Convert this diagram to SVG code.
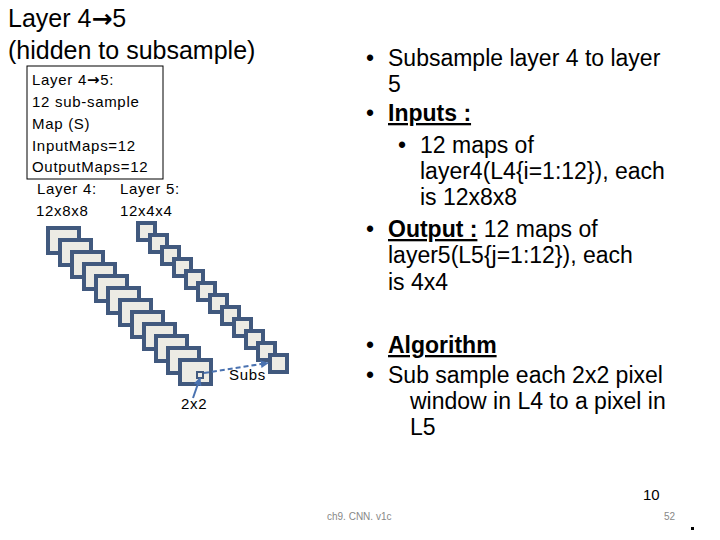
<svg xmlns="http://www.w3.org/2000/svg" width="720" height="540" viewBox="0 0 720 540">
<defs>
<style>
text{font-family:"Liberation Sans",Arial,sans-serif;fill:#000}
.t{font-size:25px}
.s{font-size:15px;letter-spacing:0.7px}
.b{font-size:23px}
.u{font-weight:bold;text-decoration:underline}
.ar{font-family:"DejaVu Sans",sans-serif;font-weight:bold}
.m4{fill:#ecebe4;stroke:#41597e;stroke-width:4}
</style>
<marker id="ah" viewBox="0 0 10 10" refX="9" refY="5" markerWidth="4" markerHeight="4" orient="auto"><path d="M0,0L10,5L0,10z" fill="#4a72b0"/></marker>
</defs>
<rect width="720" height="540" fill="#fff"/>
<g id="title"><text class="t" x="8" y="27">Layer 4<tspan class="ar">→</tspan>5</text><text class="t" x="8" y="59">(hidden to subsample)</text></g>
<g id="infobox"><rect x="27" y="66" width="136" height="113" fill="#fff" stroke="#000" stroke-width="1"/>
<text class="s" x="32" y="85">Layer 4<tspan class="ar">→</tspan>5:</text><text class="s" x="32" y="107">12 sub-sample</text><text class="s" x="32" y="129">Map (S)</text><text class="s" x="32" y="151">InputMaps=12</text><text class="s" x="32" y="172">OutputMaps=12</text>
<text class="s" x="37" y="194">Layer 4:</text><text class="s" x="120" y="194">Layer 5:</text><text class="s" x="36" y="216">12x8x8</text><text class="s" x="120" y="216">12x4x4</text></g>
<g id="layer4">
<rect class="m4" x="48" y="228" width="31" height="25"/><rect class="m4" x="60" y="240" width="31" height="25"/><rect class="m4" x="72" y="252" width="31" height="25"/><rect class="m4" x="84" y="264" width="31" height="25"/><rect class="m4" x="96" y="276" width="31" height="25"/><rect class="m4" x="108" y="288" width="31" height="25"/><rect class="m4" x="120" y="300" width="31" height="25"/><rect class="m4" x="132" y="312" width="31" height="25"/><rect class="m4" x="144" y="324" width="31" height="25"/><rect class="m4" x="156" y="336" width="31" height="25"/><rect class="m4" x="168" y="348" width="31" height="25"/><rect class="m4" x="180" y="360" width="31" height="24"/>
<rect x="197" y="372" width="6" height="6" fill="none" stroke="#41597e" stroke-width="2"/></g>
<g id="layer5">
<rect class="m4" x="138" y="223" width="17" height="17"/><rect class="m4" x="150" y="235" width="17" height="17"/><rect class="m4" x="162" y="247" width="17" height="17"/><rect class="m4" x="174" y="259" width="17" height="17"/><rect class="m4" x="186" y="271" width="17" height="17"/><rect class="m4" x="198" y="283" width="17" height="17"/><rect class="m4" x="210" y="295" width="17" height="17"/><rect class="m4" x="222" y="307" width="17" height="17"/><rect class="m4" x="234" y="319" width="17" height="17"/><rect class="m4" x="246" y="331" width="17" height="17"/><rect class="m4" x="258" y="343" width="17" height="17"/><rect class="m4" x="270" y="355" width="17" height="17"/></g>
<g id="connectors">
<path d="M204,373L268,363" fill="none" stroke="#4a72b0" stroke-width="2" stroke-dasharray="5,3" marker-end="url(#ah)"/>
<path d="M193,398L200,378" fill="none" stroke="#4a72b0" stroke-width="2" marker-end="url(#ah)"/>
</g>
<text class="s" x="229" y="380">Subs</text>
<text class="s" x="181" y="409">2x2</text>
<g id="bullets">
<text class="b" x="366" y="66">•</text><text class="b" x="388" y="66">Subsample layer 4 to layer</text><text class="b" x="388" y="92">5</text>
<text class="b" x="366" y="121">•</text><text class="b u" x="388" y="121">Inputs :</text>
<text class="b" x="398" y="153">•</text><text class="b" x="420" y="153">12 maps of</text><text class="b" x="420" y="179">layer4(L4{i=1:12}), each</text><text class="b" x="420" y="205">is 12x8x8</text>
<text class="b" x="366" y="237">•</text><text class="b" x="388" y="237"><tspan class="u">Output :</tspan> 12 maps of</text><text class="b" x="388" y="263">layer5(L5{j=1:12}), each</text><text class="b" x="388" y="290">is 4x4</text>
<text class="b" x="366" y="353">•</text><text class="b u" x="388" y="353">Algorithm</text>
<text class="b" x="366" y="383">•</text><text class="b" x="388" y="383">Sub sample each 2x2 pixel</text><text class="b" x="410" y="409">window in L4 to a pixel in</text><text class="b" x="410" y="435">L5</text></g>
<g id="footer"><text x="643" y="500" style="font-size:15px">10</text><text x="327" y="520" style="font-size:10px;fill:#888">ch9. CNN. v1c</text><text x="664" y="520" style="font-size:10px;fill:#888">52</text><rect x="691" y="527" width="3" height="3" fill="#000"/></g>
</svg>
